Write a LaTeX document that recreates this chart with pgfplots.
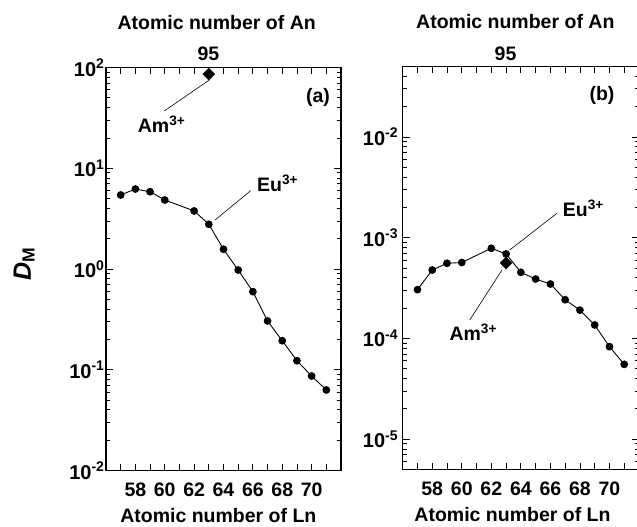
\documentclass[border=0pt]{standalone}
\usepackage{fontspec}
\setmainfont{Liberation Sans}
\usepackage{pgfplots}
\pgfplotsset{compat=1.18}

\newcommand{\lab}{\bfseries\fontsize{19.5}{22}\selectfont}

\begin{document}
\begin{tikzpicture}[x=1pt,y=1pt]

% (a)
\begin{axis}[scale only axis, at={(106pt,56.5pt)}, anchor=south west,
  width=235pt, height=403pt,
  ymode=log, xmin=56, xmax=72,
  xtick={57,...,71},
  xticklabels={,58,,60,,62,,64,,66,,68,,70,},
  axis line style={line width=1.3pt},
  major tick style={black, line width=0.8pt},
  minor tick style={black, line width=0.8pt},
  major tick length=7pt, minor tick length=4pt,
  tick align=inside,
  xticklabel style={font=\lab, anchor=base, yshift=-26pt},
  yticklabel style={font=\bfseries\fontsize{20}{22}\selectfont, xshift=2pt},
  clip=false,
  ymin=1e-2, ymax=1e2, ytick={1e-2,1e-1,1,1e1,1e2},
  yticklabels={10\textsuperscript{-2},10\textsuperscript{-1},10\textsuperscript{0},10\textsuperscript{1},10\textsuperscript{2}},
  minor ytick={0.02,0.03,0.04,0.05,0.06,0.07,0.08,0.09,
    0.2,0.3,0.4,0.5,0.6,0.7,0.8,0.9,2,3,4,5,6,7,8,9,
    20,30,40,50,60,70,80,90}]
\addplot[black, line width=0.9pt, mark=*, mark size=3.4pt] coordinates {
  (57,5.43) (58,6.22) (59,5.85) (60,4.84) (62,3.77) (63,2.78) (64,1.57)
  (65,0.977) (66,0.596) (67,0.305) (68,0.194) (69,0.123) (70,0.0867) (71,0.063)};
\addplot[only marks, black, mark=square*, mark size=4.2pt, mark options={rotate=45}]
  coordinates {(63,86)};
\end{axis}

% (b)
\begin{axis}[scale only axis, at={(402.7pt,57.5pt)}, anchor=south west,
  width=236.3pt, height=403pt,
  ymode=log, xmin=56, xmax=72,
  xtick={57,...,71},
  xticklabels={,58,,60,,62,,64,,66,,68,,70,},
  axis line style={line width=1.3pt},
  major tick style={black, line width=0.8pt},
  minor tick style={black, line width=0.8pt},
  major tick length=7pt, minor tick length=4pt,
  tick align=inside,
  xticklabel style={font=\lab, anchor=base, yshift=-26pt},
  yticklabel style={font=\bfseries\fontsize{20}{22}\selectfont, xshift=-1pt},
  clip=false,
  ymin=5e-6, ymax=5e-2, ytick={1e-5,1e-4,1e-3,1e-2},
  yticklabels={10\textsuperscript{-5},10\textsuperscript{-4},10\textsuperscript{-3},10\textsuperscript{-2}},
  minor ytick={6e-6,7e-6,8e-6,9e-6,
    2e-5,3e-5,4e-5,5e-5,6e-5,7e-5,8e-5,9e-5,
    2e-4,3e-4,4e-4,5e-4,6e-4,7e-4,8e-4,9e-4,
    2e-3,3e-3,4e-3,5e-3,6e-3,7e-3,8e-3,9e-3,
    2e-2,3e-2,4e-2}]
\addplot[black, line width=0.9pt, mark=*, mark size=3.4pt] coordinates {
  (57,3.05e-4) (58,4.77e-4) (59,5.57e-4) (60,5.67e-4) (62,7.85e-4) (63,6.89e-4)
  (64,4.53e-4) (65,3.89e-4) (66,3.47e-4) (67,2.42e-4) (68,1.91e-4) (69,1.36e-4)
  (70,8.28e-5) (71,5.53e-5)};
\addplot[only marks, black, mark=square*, mark size=4.2pt, mark options={rotate=45}]
  coordinates {(63,5.6e-4)};
\end{axis}

% annotations
\draw[line width=0.6pt] (209.3,447) -- (164.3,416);
\draw[line width=0.6pt] (215,307) -- (250.7,336.3);
\draw[line width=0.6pt] (509.7,277) -- (557,313.7);
\draw[line width=0.6pt] (502,257) -- (469.7,207);
\node[anchor=base west, inner sep=0, font=\lab] at (137.7,394.3) {Am\textsuperscript{3+}};
\node[anchor=base west, inner sep=0, font=\lab] at (257,335.3) {Eu\textsuperscript{3+}};
\node[anchor=base west, inner sep=0, font=\lab] at (562.7,310.3) {Eu\textsuperscript{3+}};
\node[anchor=base west, inner sep=0, font=\lab] at (449.3,186.3) {Am\textsuperscript{3+}};
\node[anchor=base, inner sep=0, font=\lab] at (318,424.2) {(a)};
\node[anchor=base, inner sep=0, font=\lab] at (602,426.9) {(b)};
\node[anchor=base, inner sep=0, font=\lab] at (208.5,466.3) {95};
\node[anchor=base, inner sep=0, font=\lab] at (505.5,466.3) {95};
\node[anchor=base, inner sep=0, font=\lab] at (216.7,497.5) {Atomic number of An};
\node[anchor=base, inner sep=0, font=\lab] at (515.3,498.5) {Atomic number of An};
\node[anchor=base, inner sep=0, font=\lab] at (218.3,4) {Atomic number of Ln};
\node[anchor=base, inner sep=0, font=\lab] at (512.5,5) {Atomic number of Ln};
\node[anchor=base west, inner sep=0, rotate=90,
  font=\bfseries\itshape\fontsize{25}{28}\selectfont] at (31,246) {D\textsubscript{\upshape M}};

\pgfresetboundingbox
\useasboundingbox (0,0) rectangle (637,527);
\end{tikzpicture}
\end{document}
